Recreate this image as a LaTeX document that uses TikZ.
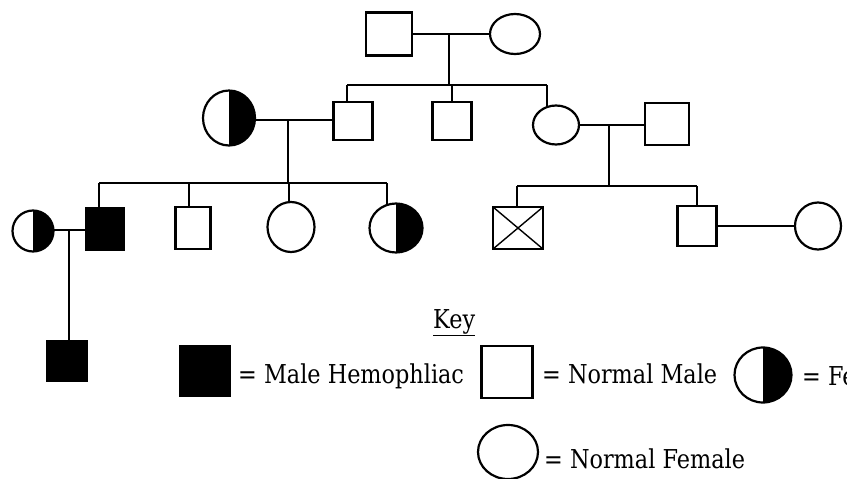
\documentclass[tikz,border=0pt]{standalone}
\usepackage{fontspec}
\usetikzlibrary{shapes.geometric}
\newfontfamily\keyfont{DejaVu Serif}
\newcommand{\widetext}[1]{\scalebox{0.86}[1]{#1}}

\begin{document}
\begin{tikzpicture}[x=1pt,y=-1pt,
  person/.style={draw=black, line width=2.2pt, inner sep=0pt, outer sep=0pt, fill=white},
  wh/.style 2 args={minimum width=#1pt, minimum height=#2pt},
  male/.style={person, rectangle},
  female/.style={person, ellipse},
  affected/.style={male, fill=black},
  carrier/.style={female, path picture={\fill[black] (path picture bounding box.north) rectangle (path picture bounding box.south east);}},
  deceased/.style={male, path picture={\draw[line width=1.4pt]
      (path picture bounding box.north west) -- (path picture bounding box.south east)
      (path picture bounding box.north east) -- (path picture bounding box.south west);}},
  link/.style={draw=black, line width=2.2pt},
  keytext/.style={font=\keyfont\fontsize{26}{28}\selectfont, anchor=base west, inner sep=0pt}
]
\useasboundingbox (0,0) rectangle (847,479);
\clip (0,0) rectangle (847,479);
\fill[white] (0,0) rectangle (847,479);

% generation I
\node[male, wh={46}{43}] (I1) at (389,34) {};
\node[female, wh={50}{40}] (I2) at (515,34) {};

% generation II
\node[carrier, wh={52}{55}] (IIa) at (229,118) {};
\node[male, wh={39}{38}] (IIb) at (353,121) {};
\node[male, wh={39}{38}] (IIc) at (452,121) {};
\node[female, wh={46}{39}] (IId) at (556,125) {};
\node[male, wh={44}{42}] (IIe) at (667,124) {};

% generation III
\node[carrier, wh={41}{41}] (IIIa) at (33,231) {};
\node[affected, wh={38}{41}] (IIIb) at (105,229) {};
\node[male, wh={35}{42}] (IIIc) at (193,228) {};
\node[female, wh={47}{50}] (IIId) at (291,227) {};
\node[carrier, wh={53}{49}] (IIIe) at (396,228) {};
\node[deceased, wh={50}{42}] (IIIf) at (518,228) {};
\node[male, wh={39}{40}] (IIIg) at (697,226) {};
\node[female, wh={46}{47}] (IIIh) at (818,226) {};

% generation IV
\node[affected, wh={40}{40}] (IV1) at (67,361) {};

% couple I1 x I2 and their children
\coordinate (c1) at (449,34);
\coordinate (s1a) at (347,85);
\coordinate (s1b) at (452,85);
\coordinate (s1c) at (547,85);
\draw[link] (I1.east) -- (I2.west);
\draw[link] (c1) -- (c1 |- s1a);
\draw[link] (s1a) -- (s1c);
\draw[link] (s1a) -- (s1a |- IIb.north);
\draw[link] (s1b) -- (s1b |- IIc.north);
\draw[link] (s1c) -- (s1c |- IId.north);

% couple IIa x IIb and their children
\coordinate (c2) at (288,120);
\coordinate (s2a) at (99,183);
\coordinate (s2b) at (189,183);
\coordinate (s2c) at (289,183);
\coordinate (s2d) at (387,183);
\draw[link] (IIa.east |- c2) -- (IIb.west |- c2);
\draw[link] (c2) -- (c2 |- s2a);
\draw[link] (s2a) -- (s2d);
\draw[link] (s2a) -- (s2a |- IIIb.north);
\draw[link] (s2b) -- (s2b |- IIIc.north);
\draw[link] (s2c) -- (s2c |- IIId.north);
\draw[link] (s2d) -- ([yshift=-2pt]s2d |- IIIe.north);

% couple IId x IIe and their children
\coordinate (c3) at (609,125);
\coordinate (s3a) at (517,186);
\coordinate (s3b) at (697,186);
\draw[link] (IId.east) -- (IIe.west |- IId.east);
\draw[link] (c3) -- (c3 |- s3a);
\draw[link] (s3a) -- (s3b);
\draw[link] (s3a) -- (s3a |- IIIf.north);
\draw[link] (s3b) -- (IIIg.north);

% couple IIIg x IIIh
\draw[link] (IIIg.east) -- (IIIh.west);

% couple IIIa x IIIb and their son
\coordinate (c4) at (69,230);
\draw[link] (IIIa.east |- c4) -- (IIIb.west |- c4);
\draw[link] (c4) -- (c4 |- IV1.north);

% key
\node[keytext] (keyhead) at (433,328) {\widetext{\underline{Key}}};
\node[affected, wh={50}{50}] (k1) at (205,371) {};
\node[keytext] (k1t) at (238,383) {\widetext{= Male Hemophliac}};
\node[male, wh={51}{52}] (k2) at (507,372) {};
\node[keytext] (k2t) at (542,383) {\widetext{= Normal Male}};
\node[carrier, wh={57}{55}] (k3) at (763,375) {};
\node[keytext] (k3t) at (802,385) {\widetext{= Fe}};
\node[female, wh={60}{54}] (k4) at (508,452) {};
\node[keytext] (k4t) at (544,468) {\widetext{= Normal Female}};
\end{tikzpicture}
\end{document}
